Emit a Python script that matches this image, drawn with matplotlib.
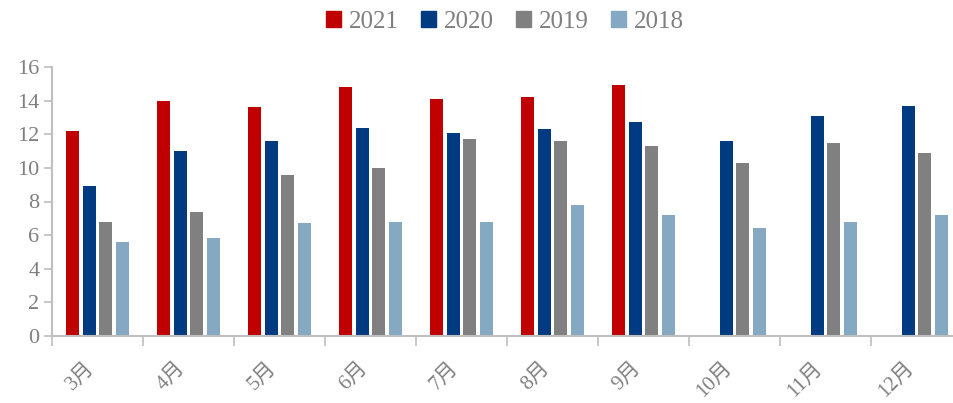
import numpy as np
import matplotlib
import matplotlib.pyplot as plt
import matplotlib.transforms as mtransforms
from matplotlib.patches import Patch
matplotlib.use('Agg')

plt.rcParams['font.family'] = ['Liberation Serif', 'Noto Sans CJK SC']

months = ['3月', '4月', '5月', '6月', '7月', '8月', '9月', '10月', '11月', '12月']
years = ['2021', '2020', '2019', '2018']
v2021 = [12.2, 14.0, 13.6, 14.8, 14.1, 14.2, 14.9, np.nan, np.nan, np.nan]
v2020 = [8.9, 11.0, 11.6, 12.4, 12.1, 12.3, 12.7, 11.6, 13.1, 13.7]
v2019 = [6.8, 7.4, 9.6, 10.0, 11.7, 11.6, 11.3, 10.3, 11.5, 10.9]
v2018 = [5.6, 5.8, 6.7, 6.8, 6.8, 7.8, 7.2, 6.4, 6.8, 7.2]
colors = ['#C00000', '#003A80', '#808080', '#85A8C3']

W, H = 954, 403
fig = plt.figure(figsize=(W / 100, H / 100), dpi=100)
ax = fig.add_axes([52 / W, (H - 336) / H, 910 / W, 269 / H])

x = np.arange(len(months))
step = 0.182
width = 0.145
for i, (vals, c) in enumerate(zip([v2021, v2020, v2019, v2018], colors)):
    ax.bar(x + (i - 1.5) * step, vals, width=width, color=c)

ax.set_xlim(-0.5, len(months) - 0.5)
ax.set_ylim(0, 16)
ax.set_yticks(range(0, 17, 2))
ax.set_xticks(np.arange(-0.5, len(months), 1))
ax.set_xticklabels([])
ax.set_xticks(x, minor=True)
ax.set_xticklabels(months, minor=True, rotation=45, ha='right', va='center',
                   rotation_mode='anchor', fontsize=15, color='#7F7F7F')
ax.tick_params(axis='x', which='minor', length=0, pad=21)
ax.tick_params(axis='x', which='major', length=7, color='#BFBFBF', width=1.2)
ax.tick_params(axis='y', length=6, color='#BFBFBF', width=1.2,
               labelsize=16, labelcolor='#7F7F7F', pad=3)
# shift month labels a little to the left
shift = mtransforms.ScaledTranslation(-6 / 100, 0, fig.dpi_scale_trans)
for lab in ax.get_xticklabels(minor=True):
    lab.set_transform(lab.get_transform() + shift)
for s in ['top', 'right']:
    ax.spines[s].set_visible(False)
for s in ['left', 'bottom']:
    ax.spines[s].set_color('#BFBFBF')
    ax.spines[s].set_linewidth(1.5)

handles = [Patch(color=c, label=y) for c, y in zip(colors, years)]
fig.legend(handles=handles, loc='center', bbox_to_anchor=(505 / W, 1 - 22 / H),
           ncol=4, frameon=False, fontsize=18, handlelength=0.6,
           handleheight=0.6, handletextpad=0.3, columnspacing=0.9,
           labelcolor='#7F7F7F')

fig.savefig('out.png', dpi=100)
